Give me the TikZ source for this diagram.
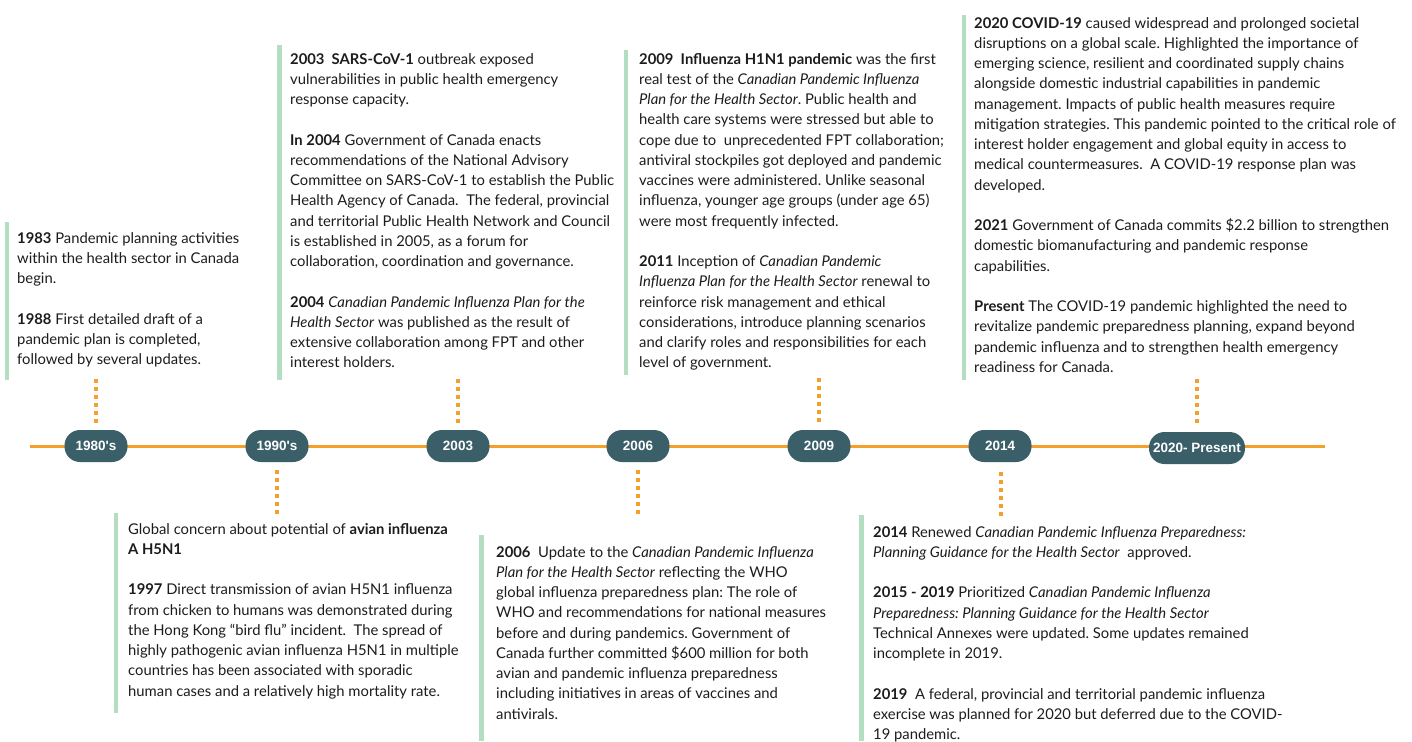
\documentclass[tikz,border=0pt]{standalone}
\usepackage{fontspec}
\setmainfont{Lato}
\newfontfamily\pillfont{Liberation Sans}
\definecolor{tlorange}{HTML}{F5A02A}
\definecolor{pillteal}{HTML}{3A5F69}
\definecolor{bargreen}{HTML}{B3DEC1}
\definecolor{txt}{HTML}{1C1C1C}
\tikzset{
  pill/.style={fill=pillteal, text=white, rounded corners=15.5pt, minimum height=32pt, minimum width=63pt, inner sep=3pt, font=\pillfont\fontsize{13.5}{14}\selectfont\bfseries},
  tline/.style={draw=tlorange, line width=3pt},
  dotline/.style={draw=tlorange, line width=3.6pt, dash pattern=on 3.6pt off 4.4pt},
  bar/.style={fill=bargreen, draw=none},
  block/.style={anchor=north west, inner sep=0pt, align=left, text=txt, font=\fontsize{14.8}{20.25}\selectfont\frenchspacing},
}
\newcommand{\gap}{\\[20.25pt]}
\begin{document}
\begin{tikzpicture}[x=1pt,y=-1pt]
\useasboundingbox (0,0) rectangle (1412,741);
% timeline
\coordinate (tlstart) at (30,446);
\coordinate (tlend) at (1325,446);
\draw[tline] (tlstart) -- (tlend);
\node[pill] (p1) at (96,446) {1980's};
\node[pill] (p2) at (277,446) {1990's};
\node[pill] (p3) at (458,446) {2003};
\node[pill] (p4) at (638,446) {2006};
\node[pill] (p5) at (819,446) {2009};
\node[pill] (p6) at (1000,446) {2014};
\node[pill, minimum width=96pt] (p7) at (1197,448) {2020- Present};
% dotted connectors
\coordinate (d1a) at (96,379); \coordinate (d1b) at (96,424);
\coordinate (d2a) at (277,470); \coordinate (d2b) at (277,515);
\coordinate (d3a) at (458,379); \coordinate (d3b) at (458,424);
\coordinate (d4a) at (638,470); \coordinate (d4b) at (638,515);
\coordinate (d5a) at (819,378); \coordinate (d5b) at (819,423);
\coordinate (d6a) at (1001,472); \coordinate (d6b) at (1001,517);
\coordinate (d7a) at (1197,379); \coordinate (d7b) at (1197,424);
\draw[dotline] (d1a) -- (d1b);
\draw[dotline] (d2a) -- (d2b);
\draw[dotline] (d3a) -- (d3b);
\draw[dotline] (d4a) -- (d4b);
\draw[dotline] (d5a) -- (d5b);
\draw[dotline] (d6a) -- (d6b);
\draw[dotline] (d7a) -- (d7b);
% bars
\fill[bar] (5,222) rectangle (9,380);
\fill[bar] (277,45) rectangle (282,380);
\fill[bar] (624,50) rectangle (628,375);
\fill[bar] (962,15) rectangle (966,380);
\fill[bar] (114,513) rectangle (118,713);
\fill[bar] (479,535) rectangle (484,741);
\fill[bar] (859,515) rectangle (864,741);
% text blocks
\node[block] (t1) at (17,232) {\textbf{1983} Pandemic planning activities\\
within the health sector in Canada\\
begin.\gap
\textbf{1988} First detailed draft of a\\
pandemic plan is completed,\\
followed by several updates.};
\node[block] (t3) at (290,53) {\textbf{2003\ \ SARS-CoV-1} outbreak exposed\\
vulnerabilities in public health emergency\\
response capacity.\gap
\textbf{In 2004} Government of Canada enacts\\
recommendations of the National Advisory\\
Committee on SARS-CoV-1 to establish the Public\\
Health Agency of Canada.\ \ The federal, provincial\\
and territorial Public Health Network and Council\\
is established in 2005, as a forum for\\
collaboration, coordination and governance.\gap
\textbf{2004} \textit{Canadian Pandemic Influenza Plan for the}\\
\textit{Health Sector} was published as the result of\\
extensive collaboration among FPT and other\\
interest holders.};
\node[block] (t5) at (639,53) {\textbf{2009\ \ Influenza H1N1 pandemic} was the first\\
real test of the \textit{Canadian Pandemic Influenza}\\
\textit{Plan for the Health Sector}. Public health and\\
health care systems were stressed but able to\\
cope due to\ \ unprecedented FPT collaboration;\\
antiviral stockpiles got deployed and pandemic\\
vaccines were administered. Unlike seasonal\\
influenza, younger age groups (under age 65)\\
were most frequently infected.\gap
\textbf{2011} Inception of \textit{Canadian Pandemic}\\
\textit{Influenza Plan for the Health Sector} renewal to\\
reinforce risk management and ethical\\
considerations, introduce planning scenarios\\
and clarify roles and responsibilities for each\\
level of government.};
\node[block] (t7) at (974,17) {\textbf{2020 COVID-19} caused widespread and prolonged societal\\
disruptions on a global scale. Highlighted the importance of\\
emerging science, resilient and coordinated supply chains\\
alongside domestic industrial capabilities in pandemic\\
management. Impacts of public health measures require\\
mitigation strategies. This pandemic pointed to the critical role of\\
interest holder engagement and global equity in access to\\
medical countermeasures.\ \ A COVID-19 response plan was\\
developed.\gap
\textbf{2021} Government of Canada commits \$2.2 billion to strengthen\\
domestic biomanufacturing and pandemic response\\
capabilities.\gap
\textbf{Present} The COVID-19 pandemic highlighted the need to\\
revitalize pandemic preparedness planning, expand beyond\\
pandemic influenza and to strengthen health emergency\\
readiness for Canada.};
\node[block] (t2) at (128,523) {Global concern about potential of \textbf{avian influenza}\\
\textbf{A H5N1}\gap
\textbf{1997} Direct transmission of avian H5N1 influenza\\
from chicken to humans was demonstrated during\\
the Hong Kong “bird flu” incident.\ \ The spread of\\
highly pathogenic avian influenza H5N1 in multiple\\
countries has been associated with sporadic\\
human cases and a relatively high mortality rate.};
\node[block] (t4) at (496,546) {\textbf{2006}\ \ Update to the \textit{Canadian Pandemic Influenza}\\
\textit{Plan for the Health Sector} reflecting the WHO\\
global influenza preparedness plan: The role of\\
WHO and recommendations for national measures\\
before and during pandemics. Government of\\
Canada further committed \$600 million for both\\
avian and pandemic influenza preparedness\\
including initiatives in areas of vaccines and\\
antivirals.};
\node[block] (t6) at (873,526) {\textbf{2014} Renewed \textit{Canadian Pandemic Influenza Preparedness:}\\
\textit{Planning Guidance for the Health Sector}\ \ approved.\gap
\textbf{2015 - 2019} Prioritized \textit{Canadian Pandemic Influenza}\\
\textit{Preparedness: Planning Guidance for the Health Sector}\\
Technical Annexes were updated. Some updates remained\\
incomplete in 2019.\gap
\textbf{2019}\ \ A federal, provincial and territorial pandemic influenza\\
exercise was planned for 2020 but deferred due to the COVID-\\
19 pandemic.};
\end{tikzpicture}
\end{document}
